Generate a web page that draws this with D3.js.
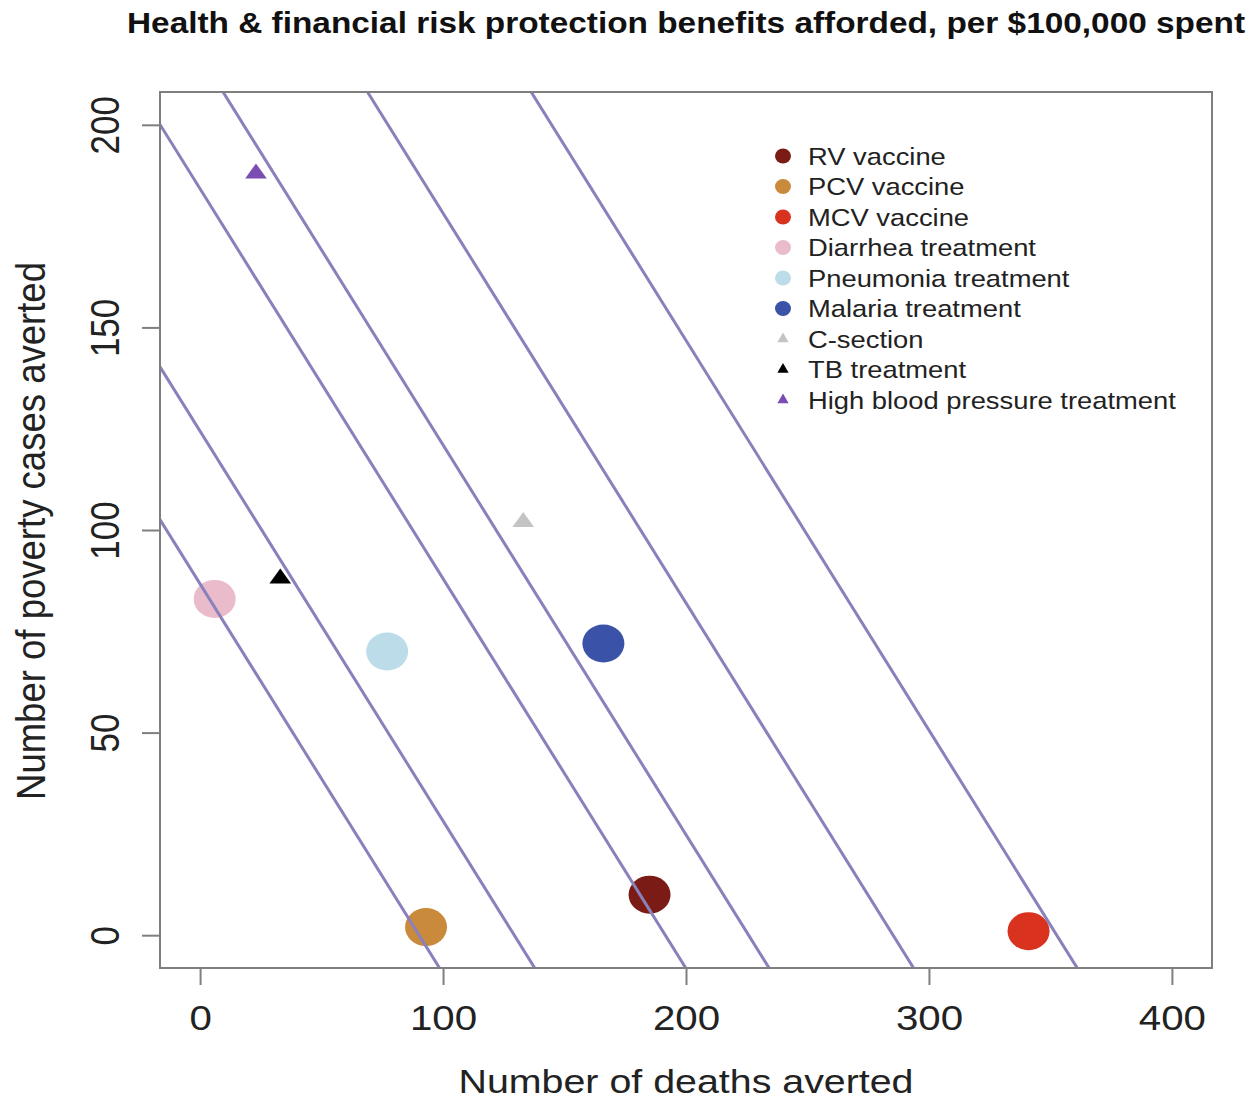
<!DOCTYPE html>
<html lang="en">
<head>
  <meta charset="UTF-8">
  <title>Health & financial risk protection benefits</title>
  <script src="https://d3js.org/d3.v7.min.js"></script>
  <style>
    body { margin: 0; background: #fff; font-family: "Liberation Sans", Arial, sans-serif; }
    .tick-label { font-size: 35px; fill: #222; }
    .axis-title { font-size: 35px; fill: #222; }
    .legend text { font-size: 24px; fill: #222; }
  </style>
</head>
<body>
  <svg id="chart" width="1253" height="1101"></svg>

  <script>
    // interventions: deaths averted (x) and poverty cases averted (y), per $100,000
    const names = ["RV vaccine", "PCV vaccine", "MCV vaccine", "Diarrhea treatment", "Pneumonia treatment",
                   "Malaria treatment", "C-section", "TB treatment", "High blood pressure treatment"];
    const deathsAverted = [185, 93, 341, 6, 77, 166, 133, 33, 23];
    const povertyAverted = [10, 2, 1, 83, 70, 72, 102, 88, 188];
    const shapes = ["circle", "circle", "circle", "circle", "circle", "circle", "triangle", "triangle", "triangle"];
    const colors = ["#7a1c15", "#c98a3c", "#d9321f", "#eabccb", "#bcdcea", "#3a52a8", "#c4c4c4", "#000000", "#7a4db2"];

    // iso-benefit lines: y = intercept + slope * x
    const isoSlope = -0.962;
    const isoIntercepts = [86.7, 124.4, 184.2, 217.2, 274.4, 339.2];

    const xTicks = [0, 100, 200, 300, 400];
    const yTicks = [0, 50, 100, 150, 200];

    const plot = { left: 160, right: 1212, top: 92, bottom: 968 };
    const stretch = 1.15; // the source picture is a little wider than tall

    const svg = d3.select("#chart");

    const x = d3.scaleLinear().domain([-16.5, 416.5]).range([plot.left, plot.right]);
    const y = d3.scaleLinear().domain([-8.1, 208.1]).range([plot.bottom, plot.top]);

    svg.append("defs").append("clipPath").attr("id", "clip")
      .append("rect")
      .attr("x", plot.left).attr("y", plot.top)
      .attr("width", plot.right - plot.left).attr("height", plot.bottom - plot.top);

    // title
    svg.append("text")
      .attr("x", 686).attr("y", 33)
      .attr("text-anchor", "middle")
      .attr("textLength", 1118).attr("lengthAdjust", "spacingAndGlyphs")
      .style("font-size", "29px").style("font-weight", "bold").style("fill", "#111")
      .text("Health & financial risk protection benefits afforded, per $100,000 spent");

    // points
    const data = names.map((n, i) => ({ name: n, x: deathsAverted[i], y: povertyAverted[i], shape: shapes[i], color: colors[i] }));
    const tri = d3.symbol().type(d3.symbolTriangle).size(130);

    const pts = svg.append("g").attr("clip-path", "url(#clip)");
    pts.selectAll("ellipse")
      .data(data.filter(d => d.shape === "circle"))
      .join("ellipse")
      .attr("cx", d => x(d.x)).attr("cy", d => y(d.y))
      .attr("rx", 21).attr("ry", 19)
      .attr("fill", d => d.color);
    pts.selectAll("path")
      .data(data.filter(d => d.shape === "triangle"))
      .join("path")
      .attr("d", tri)
      .attr("transform", d => `translate(${x(d.x)},${y(d.y)}) scale(1.25,1)`)
      .attr("fill", d => d.color);

    // iso lines drawn over the points
    svg.append("g").attr("clip-path", "url(#clip)")
      .selectAll("line")
      .data(isoIntercepts)
      .join("line")
      .attr("x1", x(-20)).attr("y1", c => y(c + isoSlope * -20))
      .attr("x2", x(420)).attr("y2", c => y(c + isoSlope * 420))
      .attr("stroke", "#8a80bb").attr("stroke-width", 3);

    // box
    svg.append("rect")
      .attr("x", plot.left).attr("y", plot.top)
      .attr("width", plot.right - plot.left).attr("height", plot.bottom - plot.top)
      .attr("fill", "none").attr("stroke", "#7f7f7f").attr("stroke-width", 2);

    // x axis
    const xAxis = svg.append("g").attr("transform", `translate(0,${plot.bottom})`)
      .call(d3.axisBottom(x).tickValues(xTicks).tickSize(17));
    xAxis.select(".domain").remove();
    xAxis.selectAll("line").attr("stroke", "#7f7f7f").attr("stroke-width", 2);
    xAxis.selectAll("text")
      .attr("class", "tick-label").attr("font-family", null).attr("font-size", null).attr("fill", null)
      .attr("y", null).attr("dy", null)
      .attr("transform", `translate(0,62) scale(${stretch},1)`);

    // y axis, labels parallel to the axis
    const yAxis = svg.append("g").attr("transform", `translate(${plot.left},0)`)
      .call(d3.axisLeft(y).tickValues(yTicks).tickSize(18));
    yAxis.select(".domain").remove();
    yAxis.selectAll("line").attr("stroke", "#7f7f7f").attr("stroke-width", 2);
    yAxis.selectAll("text")
      .attr("class", "tick-label").attr("font-family", null).attr("font-size", null).attr("fill", null)
      .attr("x", null).attr("dy", null)
      .attr("text-anchor", "middle")
      .attr("transform", `translate(-55,0) scale(${stretch},1) rotate(-90)`)
      .attr("y", 0).attr("dy", "0.35em");

    // axis titles
    svg.append("text").attr("class", "axis-title")
      .attr("x", 686).attr("y", 1093).attr("text-anchor", "middle")
      .style("font-size", "33px")
      .attr("textLength", 455).attr("lengthAdjust", "spacingAndGlyphs")
      .text("Number of deaths averted");
    svg.append("text").attr("class", "axis-title")
      .attr("transform", `translate(45,531) scale(${stretch},1) rotate(-90)`).attr("text-anchor", "middle")
      .attr("textLength", 538).attr("lengthAdjust", "spacingAndGlyphs")
      .text("Number of poverty cases averted");

    // legend
    const legend = svg.append("g").attr("class", "legend")
      .selectAll("g").data(data).join("g")
      .attr("transform", (d, i) => `translate(783,${156 + i * 30.5})`);
    legend.filter(d => d.shape === "circle").append("ellipse")
      .attr("rx", 8).attr("ry", 7.5).attr("fill", d => d.color);
    legend.filter(d => d.shape === "triangle").append("path")
      .attr("d", d3.symbol().type(d3.symbolTriangle).size(55))
      .attr("fill", d => d.color);
    legend.append("text")
      .attr("transform", `translate(25,0) scale(1.14,1)`)
      .attr("dy", "0.36em").text(d => d.name);
  </script>
</body>
</html>
